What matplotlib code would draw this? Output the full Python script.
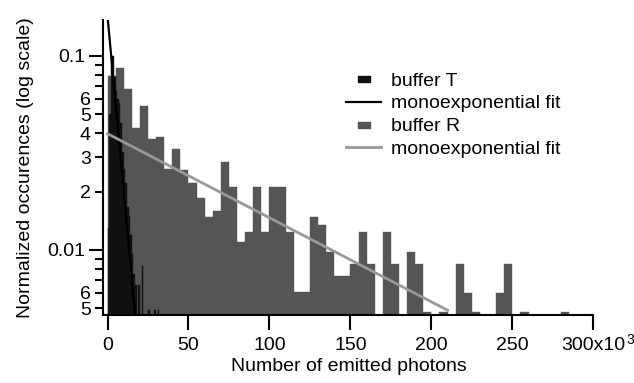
import numpy as np
import matplotlib
matplotlib.use("Agg")
import matplotlib.pyplot as plt
from matplotlib.lines import Line2D
from matplotlib.path import Path
from matplotlib.ticker import FixedLocator, FuncFormatter

plt.rcParams['font.family'] = ['Liberation Sans', 'DejaVu Sans']

# buffer R histogram, 5x10^3 photon bins (left edges, in units of 10^3)
r_left = np.arange(0, 285, 5)
r_vals = [0.0789, 0.0864, 0.0676, 0.0424, 0.0550, 0.0372, 0.0384, 0.0260,
          0.0330, 0.0258, 0.0220, 0.0185, 0.0148, 0.0159, 0.0283, 0.0211,
          0.0110, 0.0123, 0.0211, 0.0123, 0.0211, 0.0211, 0.0123, 0.0061,
          0.0061, 0.0147, 0.0134, 0.0098, 0.0073, 0.0073, 0.0085, 0.0123,
          0.0085, 0, 0.0123, 0.0085, 0, 0.0097, 0.0085, 0.0048,
          0, 0.0048, 0, 0.0085, 0.0060, 0.0048, 0, 0,
          0.0060, 0.0085, 0, 0.0048, 0, 0, 0, 0, 0.0048]

# buffer T histogram, 1x10^3 photon bins
t_left = np.arange(0, 32, 1)
t_vals = [0.013, 0.05, 0.095, 0.10, 0.078, 0.066, 0.060, 0.057,
          0.045, 0.032, 0.026, 0.022, 0.0167, 0.0150, 0.0119, 0.0095,
          0.0075, 0.0066, 0, 0.0066, 0, 0.0083, 0, 0,
          0, 0.0049, 0, 0, 0, 0.0049, 0, 0.0049]

# monoexponential fits (straight on log scale, endpoints)
fit_t_x = [0, 17]
fit_t_y = [0.16, 0.0047]
fit_r_x = [0, 210]
fit_r_y = [0.0397, 0.00489]

xticks = [0, 50, 100, 150, 200, 250, 300]
xticklabels = ['0', '50', '100', '150', '200', '250', '300x10']
ymajor = [0.01, 0.1]
yminor = [0.005, 0.006, 0.007, 0.008, 0.009,
          0.02, 0.03, 0.04, 0.05, 0.06, 0.07, 0.08, 0.09]
yminor_labeled = [0.005, 0.006, 0.02, 0.03, 0.04, 0.05, 0.06]

col_t = '#111111'
col_r = '#555555'
col_fit_r = '#999999'

fig = plt.figure(figsize=(6.34, 3.83), dpi=100)
ax = fig.add_axes([0.1632, 0.1775, 0.7726, 0.7703])
ax.set_yscale('log')

ax.bar(r_left, r_vals, width=5, align='edge', color=col_r,
       edgecolor=col_r, linewidth=0.3)
ax.bar(t_left, t_vals, width=1, align='edge', color=col_t,
       edgecolor=col_t, linewidth=0.3)
ax.plot(fit_t_x, fit_t_y, color='black', lw=1.6)
ax.plot(fit_r_x, fit_r_y, color=col_fit_r, lw=2)

ax.set_xlim(-2.5, 300)
ax.set_ylim(0.00462, 0.153)

for s in ['top', 'right']:
    ax.spines[s].set_visible(False)
for s in ['left', 'bottom']:
    ax.spines[s].set_linewidth(1.5)

ax.set_xticks(xticks)
ax.set_xticklabels(xticklabels)
ax.yaxis.set_major_locator(FixedLocator(ymajor))
ax.yaxis.set_minor_locator(FixedLocator(yminor))
ax.yaxis.set_major_formatter(FuncFormatter(lambda v, p: '%g' % v))


def minor_fmt(v, p):
    for m in yminor_labeled:
        if abs(v - m) < 1e-9:
            return '%d' % round(v / 10 ** np.floor(np.log10(v) + 1e-9))
    return ''


ax.yaxis.set_minor_formatter(FuncFormatter(minor_fmt))
ax.tick_params(axis='x', which='major', length=11, width=1.5,
               labelsize=14, pad=5)
ax.tick_params(axis='y', which='major', length=10, width=1.5,
               labelsize=14, pad=3)
ax.tick_params(axis='y', which='minor', length=6, width=1.5,
               labelsize=14, pad=3)

# exponent of the last x tick label
ax.annotate('3', xy=(300, 0), xycoords=ax.get_xaxis_transform(),
            xytext=(24, -13), textcoords='offset points',
            fontsize=10, ha='left', va='top')

ax.set_xlabel('Number of emitted photons', fontsize=14, labelpad=3)
ax.set_ylabel('Normalized occurences (log scale)', fontsize=14, labelpad=10)

rect = Path([(-1, -0.55), (1, -0.55), (1, 0.55), (-1, 0.55), (-1, -0.55)])
handles = [Line2D([], [], ls='none', marker=rect, ms=9, color=col_t),
           Line2D([], [], color='black', lw=1.6),
           Line2D([], [], ls='none', marker=rect, ms=9, color=col_r),
           Line2D([], [], color=col_fit_r, lw=2)]
labels = ['buffer T', 'monoexponential fit', 'buffer R', 'monoexponential fit']
ax.legend(handles, labels, loc='upper left', bbox_to_anchor=(0.48, 0.85),
          frameon=False, fontsize=14, handlelength=1.8, handletextpad=0.5,
          labelspacing=0.27, borderaxespad=0)

fig.savefig('out.png', dpi=100)
